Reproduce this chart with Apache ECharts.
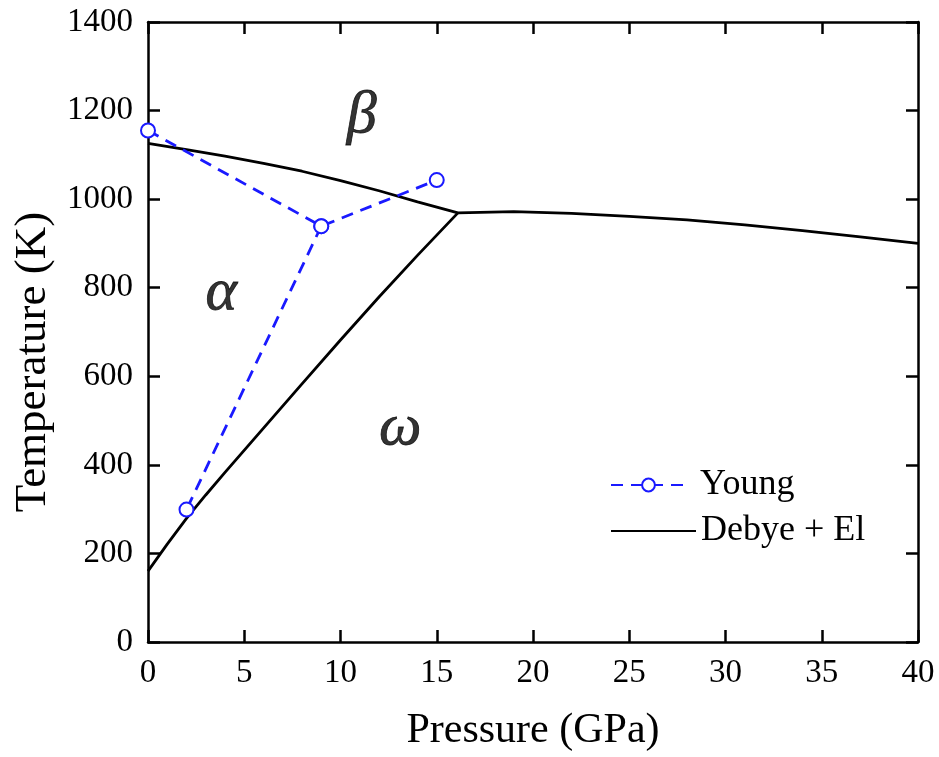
<!DOCTYPE html>
<html>
<head>
<meta charset="utf-8">
<script src="https://cdn.jsdelivr.net/npm/echarts@6/dist/echarts.min.js"></script>
<style>
html,body{margin:0;padding:0;background:#fff;}
#chart{width:939px;height:757px;}
</style>
</head>
<body>
<div id="chart"></div>
<script>
// ---- data ----
const debyeUpperP = [0, 2, 4, 6, 8, 10, 12, 14, 16.1, 19, 22, 25, 28, 31, 34, 37, 40];
const debyeUpperT = [1126, 1112, 1097, 1081, 1063, 1042, 1019, 994, 969, 972, 968, 961, 953, 942, 929, 915, 900];
const debyeLowerP = [0, 1, 2, 3, 4, 6, 8, 10, 12, 14, 16.1];
const debyeLowerT = [160, 221, 279, 332, 383, 483, 583, 682, 779, 873, 969];
const youngP = [0, 9, 15];
const youngT = [1155, 939, 1043];
const youngBranchP = [9, 2];
const youngBranchT = [939, 299];
const phaseNames = ['β', 'α', 'ω'];
const phaseP = [11.1, 3.8, 13.1];
const phaseT = [1187, 788, 482];
const seriesNames = ['Young', 'Debye + El'];

const zip = (a, b) => a.map((v, i) => [v, b[i]]);
const FONT = "'Liberation Serif', 'Times New Roman', serif";
const BLUE = '#1a1aff';

const axisCommon = {
  type: 'value',
  axisLine: { show: true, onZero: false, lineStyle: { color: '#000', width: 2.5 } },
  axisTick: { show: true, inside: true, length: 12, lineStyle: { color: '#000', width: 2.5 } },
  splitLine: { show: false },
  minorTick: { show: false }
};
const plain = (v) => String(v);

const chart = echarts.init(document.getElementById('chart'), null, { renderer: 'canvas' });
chart.setOption({
  backgroundColor: '#fff',
  animation: false,
  grid: { left: 148, top: 22, right: 21, bottom: 110, containLabel: false },
  xAxis: [
    Object.assign({}, axisCommon, {
      position: 'bottom', min: 0, max: 40, interval: 5,
      name: 'Pressure (GPa)', nameLocation: 'middle', nameGap: 68,
      nameTextStyle: { fontFamily: FONT, fontSize: 42, color: '#000' },
      axisLabel: { fontFamily: FONT, fontSize: 33, color: '#000', margin: 15, formatter: plain }
    }),
    Object.assign({}, axisCommon, {
      position: 'top', min: 0, max: 40, interval: 5,
      axisLabel: { show: false }
    })
  ],
  yAxis: [
    Object.assign({}, axisCommon, {
      position: 'left', min: 0, max: 1400, interval: 200,
      name: 'Temperature (K)', nameLocation: 'middle', nameGap: 92, nameRotate: 90,
      nameTextStyle: { fontFamily: FONT, fontSize: 45, color: '#000', padding: [0, 60, 0, 0] },
      axisLabel: { fontFamily: FONT, fontSize: 33, color: '#000', margin: 15, formatter: plain }
    }),
    Object.assign({}, axisCommon, {
      position: 'right', min: 0, max: 1400, interval: 200,
      axisLabel: { show: false }
    })
  ],
  legend: [
    {
      orient: 'vertical', left: 605, top: 460, data: [seriesNames[0]],
      itemWidth: 75, itemHeight: 16, selectedMode: false,
      textStyle: { fontFamily: FONT, fontSize: 36, color: '#000', lineHeight: 40, padding: [0, 0, 0, 9] }
    },
    {
      orient: 'vertical', left: 605, top: 506, itemWidth: 85, itemHeight: 16, selectedMode: false,
      data: [{ name: seriesNames[1], itemStyle: { opacity: 0 } }],
      textStyle: { fontFamily: FONT, fontSize: 36, color: '#000', lineHeight: 40, padding: [0, 0, 0, 0] }
    }
  ],
  series: [
    {
      name: seriesNames[1], type: 'line', data: zip(debyeUpperP, debyeUpperT),
      showSymbol: false, symbol: 'none', smooth: false,
      lineStyle: { color: '#000', width: 2.8 }, itemStyle: { color: '#000' }, z: 3
    },
    {
      name: seriesNames[1], type: 'line', data: zip(debyeLowerP, debyeLowerT),
      showSymbol: false, symbol: 'none', smooth: false,
      lineStyle: { color: '#000', width: 2.8 }, itemStyle: { color: '#000' }, z: 3
    },
    {
      name: seriesNames[0], type: 'line', data: zip(youngP, youngT),
      symbol: 'emptyCircle', symbolSize: 14,
      lineStyle: { color: BLUE, width: 2.8, type: [12, 8] },
      itemStyle: { color: BLUE, borderWidth: 1.5 }, z: 4
    },
    {
      name: seriesNames[0], type: 'line', data: zip(youngBranchP, youngBranchT),
      symbol: 'emptyCircle', symbolSize: 14,
      lineStyle: { color: BLUE, width: 2.8, type: [12, 8] },
      itemStyle: { color: BLUE, borderWidth: 1.5 }, z: 4
    },
    {
      name: 'phases', type: 'scatter', symbolSize: 0, silent: true,
      data: phaseP.map((p, i) => [p, phaseT[i], phaseNames[i]]),
      label: {
        show: true, position: 'inside', formatter: (d) => d.value[2],
        fontFamily: FONT, fontStyle: 'italic', fontSize: 60, color: '#000',
        textBorderColor: '#000', textBorderWidth: 0.8
      }
    }
  ]
});
</script>
</body>
</html>
